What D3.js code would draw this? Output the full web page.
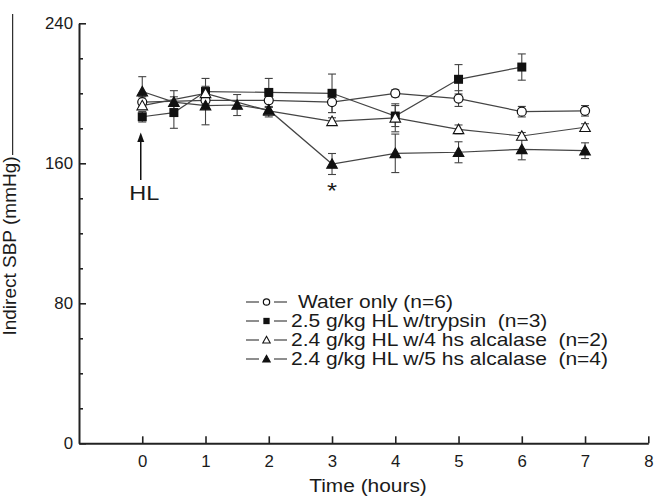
<!DOCTYPE html>
<html><head><meta charset="utf-8">
<script src="https://cdn.jsdelivr.net/npm/d3@7/dist/d3.min.js"></script>
<style>
body{margin:0;background:#fff;}
svg{display:block;}
text{font-family:"Liberation Sans",Arial,sans-serif;fill:#1a1a1a;}
</style></head>
<body>
<svg id="chart" width="656" height="497"></svg>
<script>
// ---- data ----
const xTicks = [0,1,2,3,4,5,6,7,8];
const yTicksMajor = [0,80,160,240];
const yTicksMinor = [20,40,60,100,120,140,180,200,220];

const timeWater = [0,1,2,3,4,5,6,7];
const water     = [195,196,196,195,200,197,189.5,190];
const waterErr  = [3,4,4,6,2,4.5,3,3];

const timeTrypsin = [0,0.5,1,2,3,4,5,6];
const trypsin     = [186.6,189,201,200.5,200,187,208,215];
const trypsinErr  = [3,9,7.5,8,11,6,8.4,7.5];

const timeAlc4 = [0,1,2,3,4,5,6,7];
const alc4     = [193,200,190,184,186,179.4,175.6,180.6];
const alc4Err  = [2,2,2,2,8,2.5,2,2];

const timeAlc5 = [0,0.5,1,1.5,2,3,4,5,6,7];
const alc5     = [201,195,193,193.3,190.5,159.6,165.7,166.3,168,167.2];
const alc5Err  = [8.5,6.5,11,6,4,6,11,6,6,4.5];

const seriesNames = ["Water only (n=6)","2.5 g/kg HL w/trypsin  (n=3)","2.4 g/kg HL w/4 hs alcalase  (n=2)","2.4 g/kg HL w/5 hs alcalase  (n=4)"];
const seriesSymbols = ["circle","square","triangleOpen","triangleFilled"];

// ---- setup ----
const svg = d3.select("#chart");
const x = d3.scaleLinear().domain([-1,8]).range([79,648.3]);
const y = d3.scaleLinear().domain([0,240]).range([443.3,23.3]);

function stretch(sx){
  return function(sel){
    sel.each(function(){
      const t=d3.select(this);
      const tx=+t.attr("x")||0, ty=+t.attr("y")||0;
      t.attr("x",0).attr("y",0).attr("transform",`translate(${tx},${ty}) scale(${sx},1)`);
    });
  };
}

// artifact line at top-left
svg.append("line").attr("x1",12.7).attr("x2",12.7).attr("y1",14).attr("y2",155)
  .attr("stroke","#000").attr("stroke-width",1);

// axes
const yMinor = svg.append("g").attr("transform",`translate(${x(-1)},0)`)
  .call(d3.axisLeft(y).tickValues(yTicksMinor).tickSizeInner(-4).tickSizeOuter(0).tickFormat(""));
yMinor.select(".domain").remove();
const yAx = svg.append("g").attr("transform",`translate(${x(-1)},0)`)
  .call(d3.axisLeft(y).tickValues(yTicksMajor).tickSizeInner(-7).tickSizeOuter(0).tickPadding(6));
const xAx = svg.append("g").attr("transform",`translate(0,${y(0)})`)
  .call(d3.axisBottom(x).tickValues(xTicks).tickSizeInner(-7).tickSizeOuter(0).tickPadding(12));
[yMinor,yAx,xAx].forEach(g=>{
  g.selectAll("line").attr("stroke","#222").attr("stroke-width",1.6);
  g.selectAll(".domain").attr("stroke","#222").attr("stroke-width",2);
});
yAx.selectAll("text").attr("font-size",16).attr("fill","#1a1a1a").call(stretch(1.05));
xAx.selectAll("text").attr("font-size",16).attr("fill","#1a1a1a").call(stretch(1.05));

// axis titles
svg.append("text").attr("x",368).attr("y",492).attr("text-anchor","middle")
  .attr("font-size",19).text("Time (hours)").call(stretch(1.1));
svg.append("text").attr("transform","translate(15.5,246) rotate(-90)")
  .attr("text-anchor","middle").attr("font-size",19).text("Indirect SBP (mmHg)");

// symbols
function drawSymbol(g, type, cx, cy, s){
  if(type==="circle"){
    g.append("circle").attr("cx",cx).attr("cy",cy).attr("r",4.5*s)
      .attr("fill","#fff").attr("stroke","#111").attr("stroke-width",1.2);
  } else if(type==="square"){
    g.append("rect").attr("x",cx-4.5*s).attr("y",cy-4.5*s).attr("width",9*s).attr("height",9*s)
      .attr("fill","#111");
  } else {
    const w=5.3*s, h=9.5*s;
    g.append("path").attr("d",`M${cx},${cy-h*0.55}L${cx+w},${cy+h*0.45}L${cx-w},${cy+h*0.45}Z`)
      .attr("fill", type==="triangleOpen"?"#fff":"#111").attr("stroke","#111").attr("stroke-width",1.1);
  }
}

const series = [
  {t:timeWater, v:water, e:waterErr},
  {t:timeTrypsin, v:trypsin, e:trypsinErr},
  {t:timeAlc4, v:alc4, e:alc4Err},
  {t:timeAlc5, v:alc5, e:alc5Err}
];
const line = d3.line().x(d=>x(d[0])).y(d=>y(d[1]));
const plot = svg.append("g");

// error bars
series.forEach(s=>{
  const g = plot.append("g").attr("stroke","#444").attr("stroke-width",1.1);
  s.t.forEach((t,i)=>{
    const cx=x(t), top=y(s.v[i]+s.e[i]), bot=y(s.v[i]-s.e[i]);
    g.append("line").attr("x1",cx).attr("x2",cx).attr("y1",top).attr("y2",bot);
    g.append("line").attr("x1",cx-4).attr("x2",cx+4).attr("y1",top).attr("y2",top);
    g.append("line").attr("x1",cx-4).attr("x2",cx+4).attr("y1",bot).attr("y2",bot);
  });
});
// lines
series.forEach(s=>{
  plot.append("path").datum(s.t.map((t,i)=>[t,s.v[i]])).attr("d",line)
    .attr("fill","none").attr("stroke","#444").attr("stroke-width",1.2);
});
// markers
series.forEach((s,k)=>{
  const g = plot.append("g");
  s.t.forEach((t,i)=>drawSymbol(g, seriesSymbols[k], x(t), y(s.v[i]), 1));
});

// HL arrow
const ax = x(0)-1.5;
svg.append("line").attr("x1",ax).attr("x2",ax).attr("y1",180).attr("y2",140)
  .attr("stroke","#111").attr("stroke-width",1.5);
svg.append("path").attr("d",`M${ax},132.5L${ax+3.5},142L${ax-3.5},142Z`).attr("fill","#111");
svg.append("text").attr("x",x(0)+2).attr("y",200).attr("text-anchor","middle")
  .attr("font-size",21).text("HL").call(stretch(1.12));
svg.append("text").attr("x",x(3)).attr("y",198).attr("text-anchor","middle")
  .attr("font-size",23).text("*").call(stretch(1.12));

// legend
const legRows = [302,321,340,359];
const legG = svg.append("g");
seriesNames.forEach((name,k)=>{
  const cy = legRows[k];
  legG.append("line").attr("x1",246).attr("x2",259).attr("y1",cy).attr("y2",cy).attr("stroke","#444").attr("stroke-width",1.2);
  legG.append("line").attr("x1",274).attr("x2",287).attr("y1",cy).attr("y2",cy).attr("stroke","#444").attr("stroke-width",1.2);
  drawSymbol(legG, seriesSymbols[k], 266.5, cy, 0.7);
  legG.append("text").attr("x", k===0?298:291).attr("y",cy+6)
    .attr("font-size",17.5).attr("xml:space","preserve").style("white-space","pre").text(name).call(stretch(1.2));
});
</script>
</body></html>
